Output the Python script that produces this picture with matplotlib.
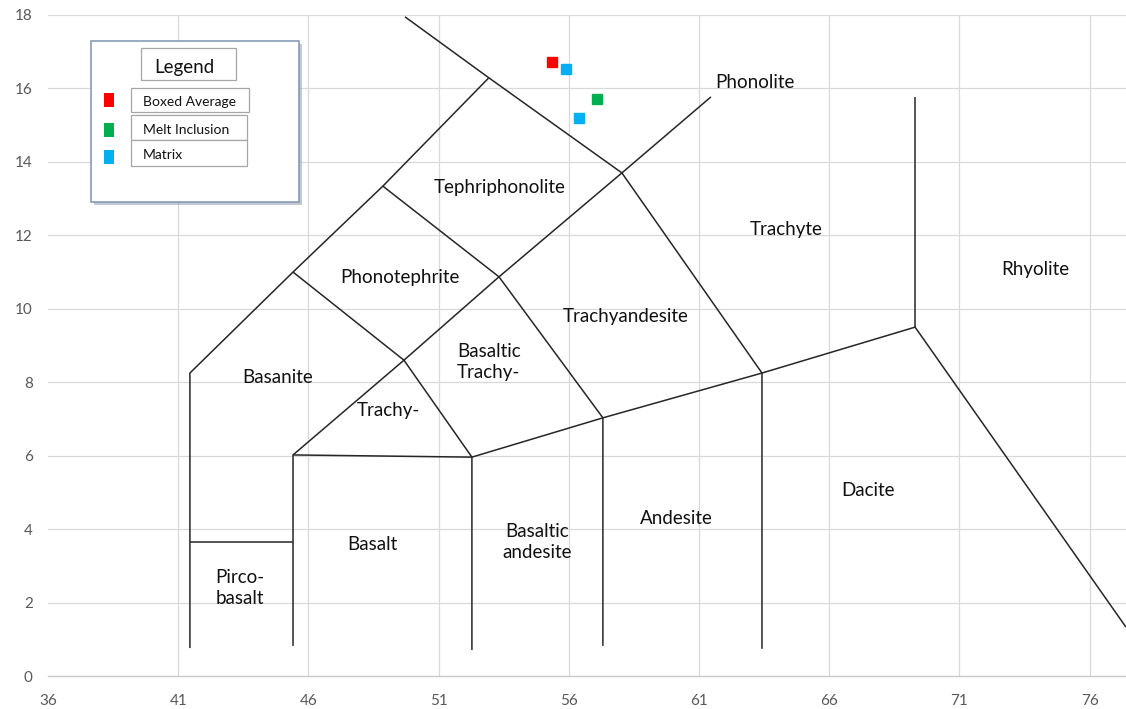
import matplotlib
matplotlib.use('Agg')
import matplotlib.pyplot as plt
from matplotlib.patches import Rectangle

plt.rcParams['font.family'] = ['Lato', 'DejaVu Sans']

# --- límites de campos (SiO2, Na2O+K2O) ---
borde_izq = [(41.45, 0.76), (41.45, 8.25), (45.41, 11.0), (48.86, 13.34), (52.93, 16.29)]
picro_top = [(41.45, 3.65), (45.41, 3.65)]
basalto_izq = [(45.41, 0.82), (45.41, 6.02), (49.67, 8.6), (53.32, 10.87), (58.04, 13.7), (61.46, 15.77)]
basalto_top = [(45.41, 6.02), (52.28, 5.96)]
andesita_base = [(52.28, 0.71), (52.28, 5.96), (57.31, 7.03), (63.42, 8.25), (69.3, 9.5), (77.4, 1.33)]
and_basaltica = [(57.31, 0.82), (57.31, 7.03), (53.32, 10.87), (48.86, 13.34)]
traquita_izq = [(63.42, 0.74), (63.42, 8.25), (58.04, 13.7), (52.93, 16.29), (49.71, 17.95)]
riolita_izq = [(69.3, 15.77), (69.3, 9.5)]
traqui_basalto = [(45.41, 11.0), (49.67, 8.6), (52.28, 5.96)]
limites = [borde_izq, picro_top, basalto_izq, basalto_top, andesita_base,
           and_basaltica, traquita_izq, riolita_izq, traqui_basalto]

nombres = ['Phonolite', 'Tephriphonolite', 'Trachyte', 'Rhyolite', 'Phonotephrite',
           'Trachyandesite', 'Basaltic\nTrachy-', 'Basanite', 'Trachy-', 'Dacite',
           'Andesite', 'Basaltic\nandesite', 'Basalt', 'Pirco-\nbasalt']
nombres_x = [63.15, 53.36, 64.34, 73.9, 49.5, 58.2, 52.93, 44.83, 49.06, 67.49, 60.12, 54.78, 48.44, 43.37]
nombres_y = [16.15, 13.29, 12.15, 11.06, 10.84, 9.78, 8.55, 8.12, 7.24, 5.04, 4.3, 3.65, 3.57, 2.4]

# muestras
series = ['Boxed Average', 'Melt Inclusion', 'Matrix']
colores = ['#ff0000', '#00b050', '#00b0f0']
sio2 = [[55.35], [57.08], [55.89, 56.39]]
alcalis = [[16.72], [15.71], [16.53, 15.2]]

x_ticks = [36, 41, 46, 51, 56, 61, 66, 71, 76]
y_ticks = [0, 2, 4, 6, 8, 10, 12, 14, 16, 18]

W, H = 1126, 709
fig = plt.figure(figsize=(W / 100, H / 100), dpi=100)
fig.patch.set_facecolor('white')
ax = fig.add_axes([48 / W, 33 / H, 1 - 48 / W, (676 - 15) / H])
ax.set_xlim(36, 77.4)
ax.set_ylim(0, 18)

# rejilla
for xv in x_ticks[1:]:
    ax.axvline(xv, color='#d9d9d9', lw=0.9, zorder=0)
for yv in y_ticks[1:]:
    ax.axhline(yv, color='#d9d9d9', lw=0.9, zorder=0)

for s in ['top', 'right', 'left']:
    ax.spines[s].set_visible(False)
ax.spines['bottom'].set_color('#c8c8c8')
ax.spines['bottom'].set_linewidth(1.0)

ax.set_xticks(x_ticks)
ax.set_yticks(y_ticks)
ax.tick_params(length=0, colors='#595959', labelsize=11)
ax.tick_params(axis='x', pad=13)
ax.tick_params(axis='y', pad=11)

for lin in limites:
    xs = [p[0] for p in lin]
    ys = [p[1] for p in lin]
    ax.plot(xs, ys, color='#262626', lw=1.1, zorder=2, solid_capstyle='butt')

for t, xv, yv in zip(nombres, nombres_x, nombres_y):
    ax.text(xv, yv, t, ha='center', va='center', fontsize=13.5, color='#111111',
            linespacing=1.3, zorder=3)

for sx, sy, c in zip(sio2, alcalis, colores):
    ax.plot(sx, sy, ls='none', marker='s', ms=7.5, color=c, mec=c, zorder=4)

# leyenda dibujada a mano
def caja(px0, py0, px1, py1, **kw):
    r = Rectangle((px0 / W, 1 - py1 / H), (px1 - px0) / W, (py1 - py0) / H,
                  transform=fig.transFigure, **kw)
    fig.add_artist(r)

caja(94, 44, 302, 205, facecolor='#9aa6b8', edgecolor='none', alpha=0.6, zorder=5)
caja(91, 41, 299, 202, facecolor='white', edgecolor='#7f93b0', lw=1.1, zorder=6)
caja(141, 48, 236, 80, facecolor='white', edgecolor='#a6a6a6', lw=0.9, zorder=7)
fig.text(184 / W, 1 - 68 / H, 'Legend', ha='center', va='center', fontsize=13.5,
         color='#111111', zorder=8)

cajas_y = [(88, 112), (115, 140), (140, 166)]
cajas_x = [(131, 249), (131, 247), (131, 247)]
marcas_y = [100, 130, 157]
for nom, c, (y0, y1), (x0, x1), my in zip(series, colores, cajas_y, cajas_x, marcas_y):
    caja(x0, y0, x1, y1, facecolor='white', edgecolor='#a6a6a6', lw=0.9, zorder=7)
    caja(104, my - 7, 114, my + 7, facecolor=c, edgecolor='none', zorder=8)
    fig.text((x0 + 12) / W, 1 - (y0 + y1 + 4) / 2 / H, nom, ha='left', va='center',
             fontsize=10, color='#111111', zorder=8)

fig.savefig('out.png', dpi=100, facecolor='white')
